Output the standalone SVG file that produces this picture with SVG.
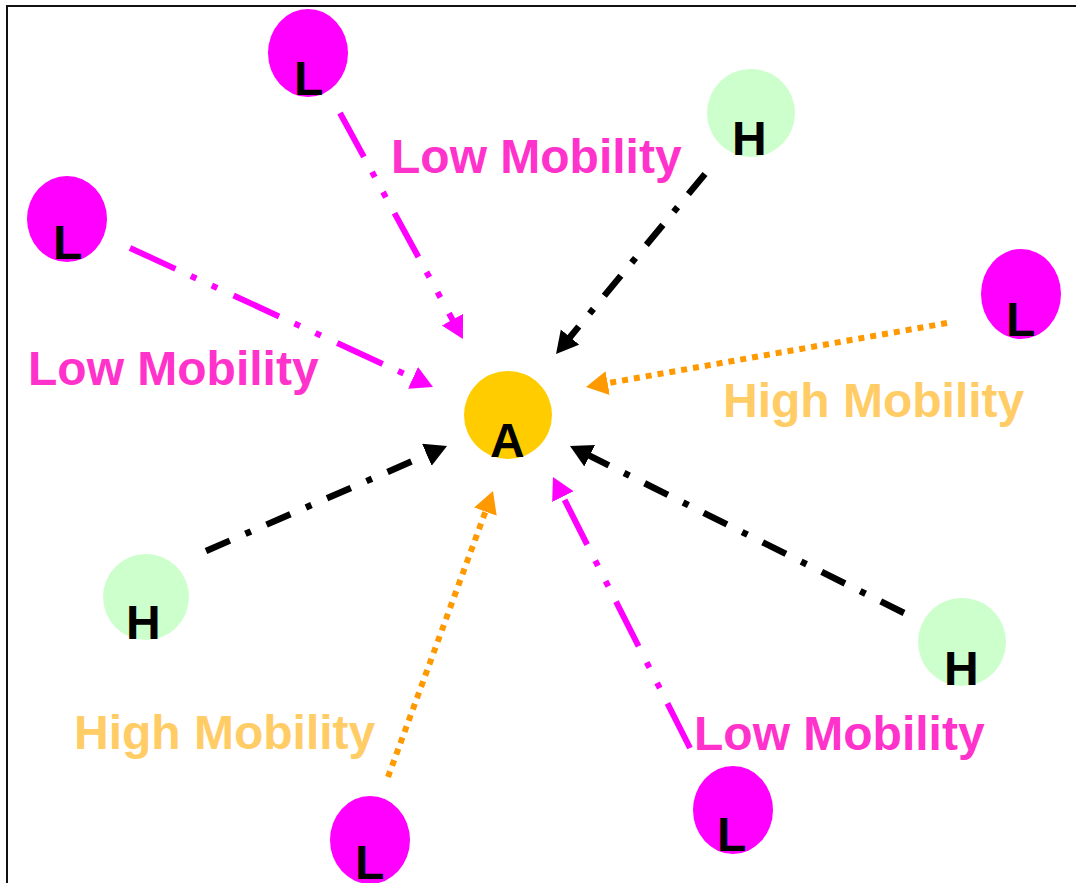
<svg xmlns="http://www.w3.org/2000/svg" width="1076" height="883" viewBox="0 0 1076 883">
  <style>
    .lbl { font-family: "Liberation Sans", Arial, sans-serif; font-weight: bold; font-size: 48px; }
    .node { font-family: "Liberation Sans", Arial, sans-serif; font-weight: bold; font-size: 48px; fill: #000; }
    .low { fill: #FF33CC; }
    .high { fill: #FFCC66; }
    .mag { fill: #FF00FF; }
    .grn { fill: #CCFFCC; }
    .ctr { fill: #FFCC00; }
    .c-low { stroke: #FF00FF; stroke-width: 6; fill: none; stroke-dasharray: 50 17 6 17 6 18; marker-end: url(#am); }
    .c-h { stroke: #000; stroke-width: 6.5; fill: none; stroke-dasharray: 26 17 6 17; marker-end: url(#ak); }
    .c-o { stroke: #FF9900; stroke-width: 6; fill: none; stroke-dasharray: 6 6; marker-end: url(#ao); }
  </style>
  <defs>
    <marker id="am" markerUnits="userSpaceOnUse" markerWidth="24" markerHeight="26" refX="2" refY="12" orient="auto">
      <path d="M0,0 L22,12 L0,24 z" fill="#FF00FF"/>
    </marker>
    <marker id="ak" markerUnits="userSpaceOnUse" markerWidth="24" markerHeight="26" refX="2" refY="12" orient="auto">
      <path d="M0,0 L22,12 L0,24 z" fill="#000"/>
    </marker>
    <marker id="ao" markerUnits="userSpaceOnUse" markerWidth="24" markerHeight="26" refX="2" refY="12" orient="auto">
      <path d="M0,0 L22,12 L0,24 z" fill="#FF9900"/>
    </marker>
  </defs>
  <rect x="0" y="0" width="1076" height="883" fill="#fff"/>
  <path d="M7,883 V6 H1076" fill="none" stroke="#111" stroke-width="2"/>

  <g id="connectors">
    <line class="c-low" x1="340" y1="113" x2="453.4" y2="321.4"/>
    <line class="c-low" x1="130" y1="248" x2="414.8" y2="378.7"/>
    <line class="c-h" x1="705" y1="174" x2="568.8" y2="338.6"/>
    <line class="c-o" x1="947" y1="323" x2="605.7" y2="383.5"/>
    <line class="c-h" x1="206" y1="551" x2="428.7" y2="454"/>
    <line class="c-o" x1="388" y1="777" x2="486.1" y2="509.8"/>
    <line class="c-low" x1="690" y1="748" x2="562" y2="494.8"/>
    <line class="c-h" x1="904" y1="613" x2="587.9" y2="454.9"/>
  </g>

  <g id="labels">
    <text class="lbl low" x="391" y="173">Low Mobility</text>
    <text class="lbl low" x="28" y="385">Low Mobility</text>
    <text class="lbl high" x="723" y="417">High Mobility</text>
    <text class="lbl high" x="74" y="749">High Mobility</text>
    <text class="lbl low" x="694" y="750">Low Mobility</text>
  </g>

  <g id="node-A">
    <circle class="ctr" cx="508" cy="415" r="44"/>
    <text class="node" x="490" y="457">A</text>
  </g>
  <g id="node-L1">
    <ellipse class="mag" cx="308" cy="53" rx="40" ry="44"/>
    <text class="node" x="294" y="95">L</text>
  </g>
  <g id="node-L2">
    <ellipse class="mag" cx="67" cy="219" rx="40" ry="43"/>
    <text class="node" x="53" y="259">L</text>
  </g>
  <g id="node-H1">
    <ellipse class="grn" cx="751" cy="113" rx="44" ry="44"/>
    <text class="node" x="732" y="155">H</text>
  </g>
  <g id="node-L3">
    <ellipse class="mag" cx="1021" cy="294" rx="40" ry="45"/>
    <text class="node" x="1006" y="336">L</text>
  </g>
  <g id="node-H2">
    <ellipse class="grn" cx="146" cy="597" rx="43" ry="43"/>
    <text class="node" x="126" y="639">H</text>
  </g>
  <g id="node-H3">
    <ellipse class="grn" cx="962" cy="642" rx="44" ry="44"/>
    <text class="node" x="944" y="685">H</text>
  </g>
  <g id="node-L4">
    <ellipse class="mag" cx="370" cy="840" rx="40" ry="44"/>
    <text class="node" x="355" y="879">L</text>
  </g>
  <g id="node-L5">
    <ellipse class="mag" cx="733" cy="810" rx="40" ry="44"/>
    <text class="node" x="717" y="851">L</text>
  </g>
</svg>
